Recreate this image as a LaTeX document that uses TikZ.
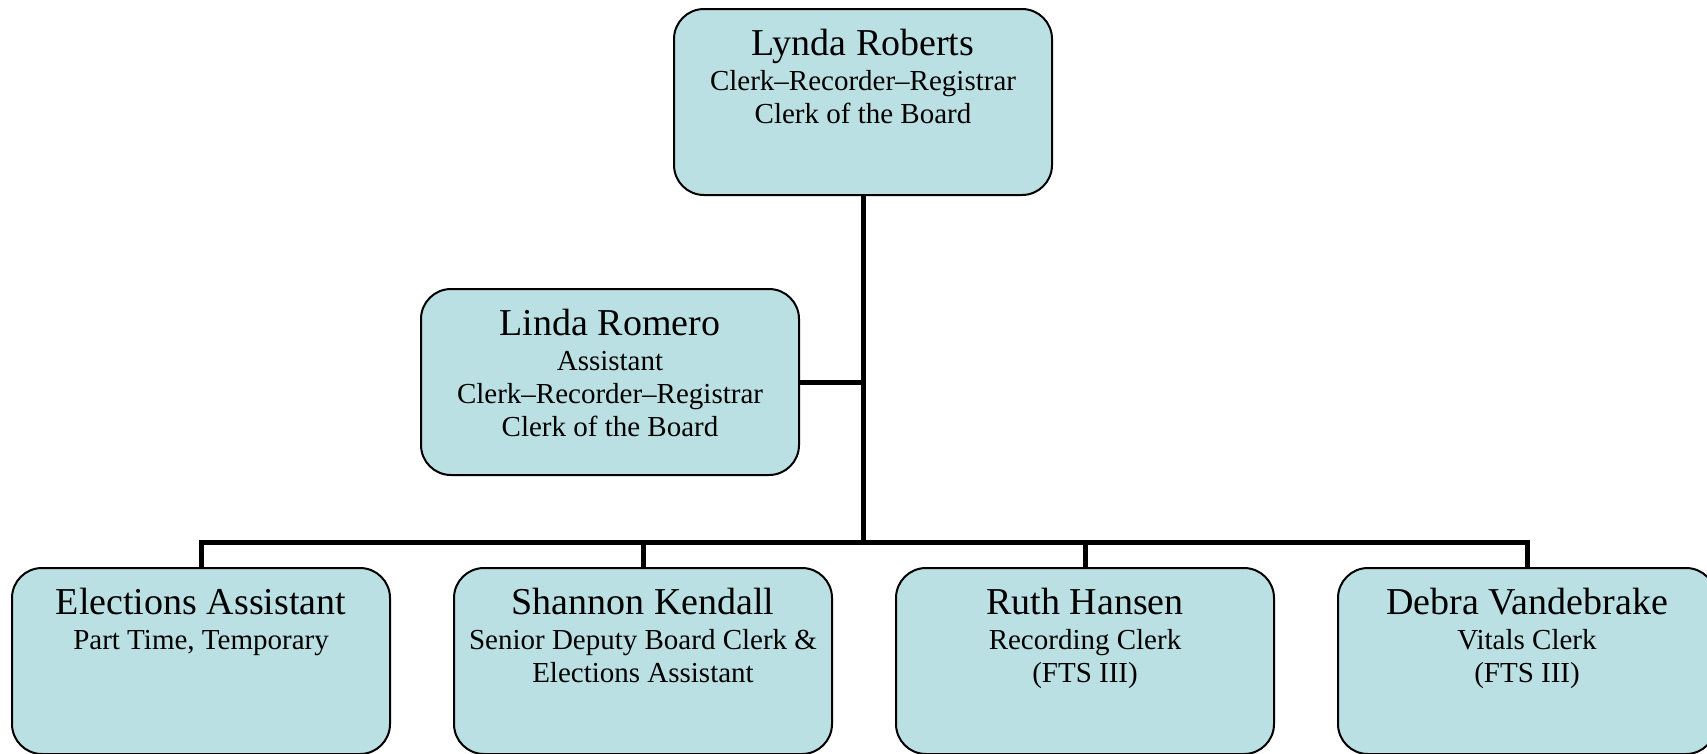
\documentclass[tikz,border=0pt]{standalone}
\usepackage{fontspec}
\setmainfont{Liberation Serif}
\usetikzlibrary{positioning}
\definecolor{cardblue}{RGB}{187,224,227}
\newcommand{\cardname}[1]{{\fontsize{38}{40}\selectfont #1}}

\begin{document}
\begin{tikzpicture}[x=1pt, y=-1pt, node distance=62pt, every node/.style={align=center},
    card/.style={draw, line width=2pt, rounded corners=30pt, fill=cardblue, minimum width=378pt, minimum height=186pt, inner sep=0pt},
    cardtext/.style={anchor=north, inner sep=0pt, yshift=-21pt, font=\fontsize{29}{33}\selectfont},
    link/.style={line width=5pt}]
    \useasboundingbox (0,0) rectangle (1707,753);
    \node[card] (roberts) at (863,102) {};
    \node[cardtext] (roberts-t) at (roberts.north) {\cardname{Lynda Roberts}\\[2pt]Clerk--Recorder--Registrar\\Clerk of the Board};
    \node[card] (romero) at (610,382) {};
    \node[cardtext] (romero-t) at (romero.north) {\cardname{Linda Romero}\\[2pt]Assistant\\Clerk--Recorder--Registrar\\Clerk of the Board};
    \node[card] (elections) at (201,661) {};
    \node[cardtext] (elections-t) at (elections.north) {\cardname{Elections Assistant}\\[2pt]Part Time, Temporary};
    \node[card, right=of elections] (kendall) {};
    \node[cardtext] (kendall-t) at (kendall.north) {\cardname{Shannon Kendall}\\[2pt]Senior Deputy Board Clerk \&\\Elections Assistant};
    \node[card, right=of kendall] (hansen) {};
    \node[cardtext] (hansen-t) at (hansen.north) {\cardname{Ruth Hansen}\\[2pt]Recording Clerk\\(FTS III)};
    \node[card, right=of hansen] (vandebrake) {};
    \node[cardtext] (vandebrake-t) at (vandebrake.north) {\cardname{Debra Vandebrake}\\[2pt]Vitals Clerk\\(FTS III)};

    \coordinate (bar) at (863,542);
    \draw[link] (roberts.south) -- (bar);
    \draw[link] (romero.east) -- (romero.east -| roberts.south);
    \draw[link] (elections.north) -- (elections.north |- bar) -- (vandebrake.north |- bar) -- (vandebrake.north);
    \draw[link] (kendall.north) -- (kendall.north |- bar);
    \draw[link] (hansen.north) -- (hansen.north |- bar);
\end{tikzpicture}
\end{document}
